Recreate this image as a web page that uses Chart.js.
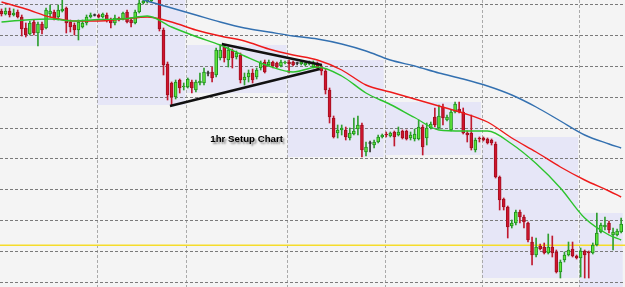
<!DOCTYPE html>
<html>
<head>
<meta charset="utf-8">
<script src="https://cdn.jsdelivr.net/npm/chart.js@4.4.1/dist/chart.umd.min.js"></script>
<style>
    html, body { margin: 0; padding: 0; background: #f4f4f4; }
    #wrap { width: 625px; height: 287px; position: relative; }
</style>
</head>
<body>
<div id="wrap"><canvas id="myChart"></canvas></div>
<script>
// hourly candles, price in chart units (no axis labels on the original)
const opens = [
    276,273,276,272,275,270,259,253,265,254,263,259,273,275,270,276,279,265,262,257,260,264,270,272,
    272,270,272,267,264,269,268,275,267,264,275,284,285,286,290,293,257,223,204,190,207,200,
    200,205,197,204,204,214,215,212,229,240,227,236,230,232,207,210,214,210,219,225,222,225,224,221,224,
    225,225,224,223,222,223,220,223,220,216,197,169,154,157,157,149,153,158,162,135,144,142,145,150,
    153,151,155,152,156,156,149,148,148,160,149,159,170,159,180,167,157,175,178,175,154,154,137,149,
    149,148,147,143,110,88,80,61,64,75,70,64,45,32,41,40,34,40,35,15,27,32,38,31,
    29,36,35,34,42,55,60,64,52,52,55
]
const highs = [
    278,279,279,278,277,272,264,266,267,265,265,279,282,277,282,287,280,267,264,267,267,272,274,273,
    273,274,274,269,272,270,275,277,269,277,287,289,290,293,299,297,259,225,205,207,208,204,
    209,207,207,214,219,216,220,239,242,242,240,238,236,234,214,217,218,219,226,227,227,226,225,227,226,
    227,226,225,226,225,226,226,225,222,218,199,171,162,162,160,159,169,171,164,145,146,147,152,153,
    155,155,156,160,157,157,155,158,167,162,164,165,179,182,183,172,177,185,185,179,156,172,149,150,
    150,149,148,145,111,89,81,67,77,77,72,65,50,49,43,44,53,51,37,27,35,45,45,32,
    39,37,36,44,74,64,70,66,59,58,69
]
const lows = [
    271,272,270,271,269,251,250,252,252,241,253,258,270,267,267,275,254,255,252,247,259,262,269,271,
    269,269,265,259,262,266,267,264,260,263,274,283,284,285,289,256,212,187,182,188,194,197,
    199,194,195,202,202,211,205,210,227,225,220,219,228,204,202,205,204,208,217,214,221,219,219,220,223,
    214,221,222,222,221,222,219,218,212,193,164,149,149,152,147,147,152,152,130,131,135,139,144,149,
    150,150,141,151,148,147,147,146,147,132,142,158,160,158,162,166,156,174,174,153,145,137,135,145,
    146,143,142,109,77,77,49,59,62,64,59,45,22,30,37,33,33,30,14,9,25,31,30,28,
    10,9,9,33,41,54,57,54,37,51,54
]
const closes = [
    273,276,272,274,270,258,252,264,254,263,257,277,276,269,277,278,264,260,257,265,264,270,272,272,
    270,273,267,264,269,267,274,265,264,275,284,286,287,290,295,258,222,192,190,205,199,201,
    208,199,205,206,215,214,209,237,237,229,237,229,234,207,210,214,207,217,224,215,225,221,220,225,225,
    223,222,224,225,224,225,224,219,216,197,170,150,157,159,150,154,156,162,137,140,144,145,150,152,
    152,154,150,155,149,148,152,153,160,140,159,163,162,171,169,170,175,183,175,154,152,139,147,148,
    147,144,144,110,87,80,60,64,75,70,65,47,32,40,38,34,40,34,15,25,32,37,31,29,
    36,32,34,42,54,62,62,57,55,56,63
]

// first candle of each trading day (shaded day-range boxes)
const dayStarts = [0, 24, 46, 71, 95, 119, 143]

// moving averages read at every 6th candle
const maIdx   = [0,6,12,18,24,30,36,42,48,54,60,66,72,78,84,90,96,102,108,114,120,126,132,138,144,150,153]
const greenMA = [265,267,268,266,267.5,268,271,260,250.5,242,231,221,215,220,211,194,182.5,169.5,157,156,156,143,123.4,99,69,52,47]
const redMA   = [285,278,270,266,266,268,270,265,257,251,246,238,232,227,217,202,195,188,181,174,165,149,135,120,107,96,90]
const blueMA  = [325,319,313,307,301,294,286,279,272,265,259,255,251,248,243,236,227,221,214,208,201,192,180,166,152,143,139]

// triangle drawn on the chart
const upperIdx = [54.4, 79.1]
const upperVal = [243, 222]
const lowerIdx = [41.6, 78.6]
const lowerVal = [181, 218]

const gridLevels = [5.5, 36.3, 67.1, 97.9, 128.7, 159.5, 190.3, 221.1, 251.9, 282.7]
const supportLevel = 41.7
const chartLabel = "1hr Setup Chart"

function candleColor(i, up, down, flat) {
    if (opens[i] == closes[i]) return flat
    return closes[i] > opens[i] ? up : down
}

const bodies = opens.map((o, i) => {
    let lo = Math.min(o, closes[i]), hi = Math.max(o, closes[i])
    if (hi - lo < 1) { let m = (hi + lo) / 2; lo = m - 0.5; hi = m + 0.5 }
    return {x: i, y: [lo, hi]}
})
const wicks = highs.map((h, i) => ({x: i, y: [lows[i], h]}))
const maLine = arr => maIdx.map((i, k) => ({x: i, y: arr[k]}))

const backdrop = {
    id: "backdrop",
    beforeDatasetsDraw(chart) {
        const {ctx} = chart
        const x = chart.scales.x, y = chart.scales.y
        ctx.save()
        ctx.fillStyle = "#f4f4f4"
        ctx.fillRect(0, 0, chart.width, chart.height)

        // day range boxes
        ctx.fillStyle = "#e6e6f7"
        for (let d = 0; d < dayStarts.length; d++) {
            let s = dayStarts[d]
            let e = d + 1 < dayStarts.length ? dayStarts[d + 1] - 1 : opens.length - 1
            let hi = Math.max(...highs.slice(s, e + 1))
            let lo = Math.min(...lows.slice(s, e + 1))
            if (d == dayStarts.length - 1) lo = y.min
            let x0 = x.getPixelForValue(s) - 1.5
            let x1 = x.getPixelForValue(e) + 1.5
            let y0 = y.getPixelForValue(hi), y1 = y.getPixelForValue(lo)
            ctx.fillRect(x0, y0, x1 - x0, y1 - y0)
        }

        // grid
        ctx.lineWidth = 1
        ctx.setLineDash([3, 2])
        ctx.strokeStyle = "#aaaaaa"
        for (let d = 1; d < dayStarts.length; d++) {
            let px = Math.round(x.getPixelForValue(dayStarts[d] - 0.4)) + 0.5
            ctx.beginPath(); ctx.moveTo(px, 0); ctx.lineTo(px, chart.height); ctx.stroke()
        }
        ctx.strokeStyle = "#7a7a7a"
        gridLevels.forEach(v => {
            let py = Math.round(y.getPixelForValue(v)) + 0.5
            ctx.beginPath(); ctx.moveTo(0, py); ctx.lineTo(chart.width, py); ctx.stroke()
        })
        ctx.setLineDash([])

        // support level
        ctx.strokeStyle = "#f5dc2a"
        ctx.lineWidth = 1.5
        let sy = y.getPixelForValue(supportLevel)
        ctx.beginPath(); ctx.moveTo(0, sy); ctx.lineTo(chart.width, sy); ctx.stroke()
        ctx.restore()
    },
    afterDatasetsDraw(chart) {
        const {ctx} = chart
        const x = chart.scales.x, y = chart.scales.y
        ctx.save()
        ctx.font = "bold 9.7px 'Liberation Sans', Arial, sans-serif"
        ctx.textAlign = "right"
        ctx.textBaseline = "alphabetic"
        ctx.shadowColor = "rgba(0,0,0,0.45)"
        ctx.shadowBlur = 2
        ctx.shadowOffsetX = 2
        ctx.shadowOffsetY = 2
        ctx.fillStyle = "#000"
        ctx.fillText(chartLabel, x.getPixelForValue(69.5), y.getPixelForValue(145.5))
        ctx.restore()
    }
}

new Chart(document.getElementById("myChart"), {
    type: "bar",
    data: {
        datasets: [
            {
                type: "line", data: upperIdx.map((i, k) => ({x: i, y: upperVal[k]})),
                borderColor: "#111", borderWidth: 2.5, pointRadius: 0, order: 0
            },
            {
                type: "line", data: lowerIdx.map((i, k) => ({x: i, y: lowerVal[k]})),
                borderColor: "#111", borderWidth: 2.5, pointRadius: 0, order: 0
            },
            {
                type: "line", label: "fast", data: maLine(greenMA),
                borderColor: "#2cc42c", borderWidth: 1.4, pointRadius: 0,
                cubicInterpolationMode: "monotone", order: 1
            },
            {
                type: "line", label: "mid", data: maLine(redMA),
                borderColor: "#ee1a1a", borderWidth: 1.4, pointRadius: 0,
                cubicInterpolationMode: "monotone", order: 1
            },
            {
                type: "line", label: "slow", data: maLine(blueMA),
                borderColor: "#3370b0", borderWidth: 1.4, pointRadius: 0,
                cubicInterpolationMode: "monotone", order: 1
            },
            {
                label: "body", data: bodies, grouped: false, barThickness: 3,
                backgroundColor: c => candleColor(c.dataIndex, "#5fe63a", "#d0142e", "#333"),
                borderColor: c => candleColor(c.dataIndex, "#1f8f1f", "#a0101f", "#333"),
                borderWidth: 1, borderSkipped: false, order: 2
            },
            {
                label: "wick", data: wicks, grouped: false, barThickness: 1,
                backgroundColor: c => candleColor(c.dataIndex, "#2f9f2f", "#c0192f", "#333"),
                order: 3
            }
        ]
    },
    options: {
        responsive: true,
        maintainAspectRatio: false,
        animation: false,
        layout: { padding: 0 },
        plugins: {
            legend: { display: false },
            tooltip: { enabled: false }
        },
        scales: {
            x: { type: "linear", min: -0.37, max: 153.95, offset: false, display: false },
            y: { min: 0, max: 287, display: false }
        }
    },
    plugins: [backdrop]
})
</script>
</body>
</html>
